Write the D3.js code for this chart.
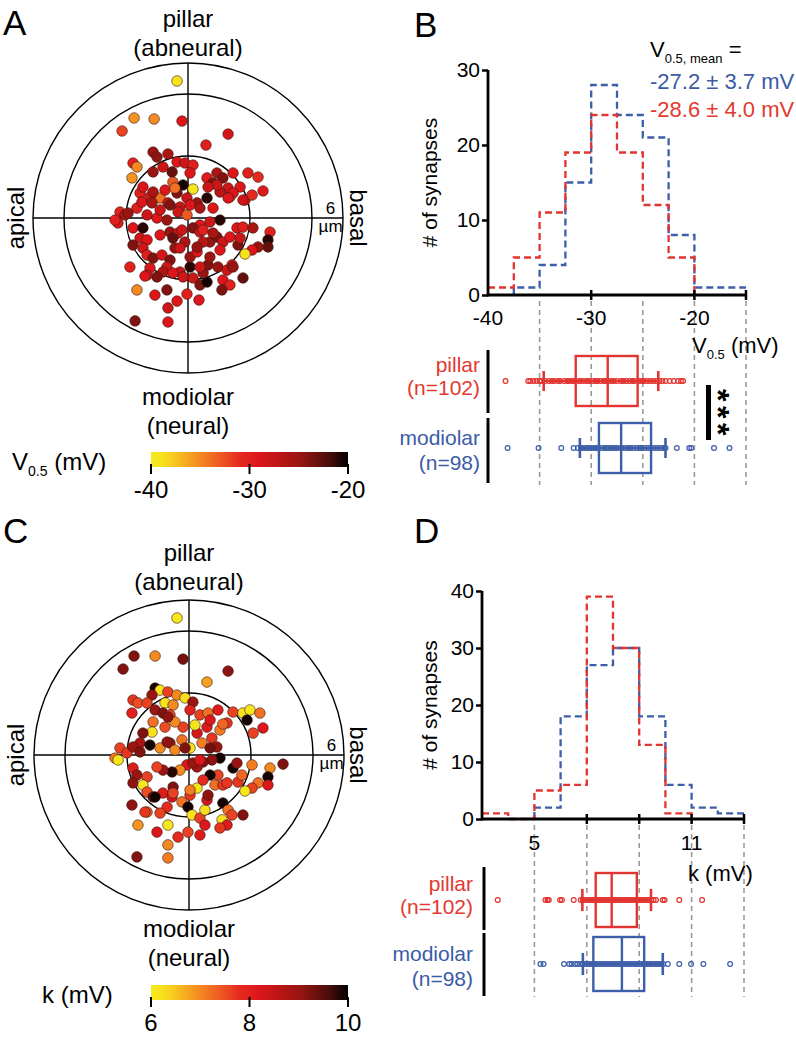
<!DOCTYPE html>
<html><head><meta charset="utf-8">
<script src="https://cdn.jsdelivr.net/npm/d3@7"></script>
<style>body{margin:0;background:#fff}svg{display:block}</style>
</head><body><svg id="c" width="796" height="1040"></svg>
<script>
// ---------------- DATA ----------------
// Polar positions (µm; x = basal +, y = pillar +) and value
const polarA = [[-0.53,6.63,-39],[-2.61,4.84,-35.5],[-1.64,4.79,-35],[-3.19,4.21,-32],[-0.29,4.69,-29],[1.94,4.06,-28.5],[0.87,3.53,-30],[-1.69,3.19,-25],[-1.50,2.95,-24.5],[-0.97,3.10,-26],[-0.53,2.71,-29],[-0.15,2.66,-28],[0.24,2.56,-30],[-2.66,2.66,-30],[-2.47,2.47,-35],[-2.71,1.94,-35.5],[-1.69,2.23,-25],[-1.21,2.47,-28],[-0.77,2.23,-23],[-0.73,1.74,-33],[-0.24,1.60,-20.5],[0.24,1.40,-39.5],[0.10,2.18,-29],[0.92,1.94,-29.5],[1.40,2.18,-26],[2.18,2.18,-29],[2.90,2.18,-30],[3.39,1.98,-31],[1.21,1.69,-24],[1.94,1.45,-28],[1.55,1.26,-27],[2.52,1.50,-29],[3.63,1.31,-29.5],[2.76,0.87,-29],[2.03,1.02,-33],[0.92,0.97,-21],[0.44,0.73,-25],[-0.05,0.97,-28],[-0.53,1.21,-24],[-1.35,0.97,-34],[-1.84,1.02,-29],[-2.32,1.21,-30],[-0.97,0.73,-28],[-0.39,0.53,-27.5],[1.69,1.94,-24],[1.40,1.60,-28],[-2.18,1.50,-29],[-1.69,1.26,-26],[-1.11,1.35,-29],[-0.63,1.45,-34],[0.97,1.50,-28],[2.18,1.21,-29],[3.10,1.11,-31],
[-3.39,-0.24,-29.5],[-3.29,0.29,-30],[-3.05,0.15,-26],[-2.66,-0.48,-29],[-2.18,-0.48,-21],[-2.32,-0.97,-28],[-1.98,-1.06,-29],[-2.66,-1.31,-24],[-2.18,-1.45,-28],[-1.98,-1.79,-30],[-1.69,-1.94,-24],[-1.26,-1.79,-28.5],[-1.35,-0.82,-29],[-0.87,-0.68,-25],[-0.48,-0.73,-28],[-0.73,-0.97,-23],[-0.63,-1.45,-25],[-0.87,-2.03,-24],[-1.02,-2.37,-28],[-1.21,-2.61,-26],[-1.84,-2.42,-29],[-1.98,-2.76,-29],[-2.81,-2.37,-30],[-0.39,-2.61,-28],[0.10,-2.37,-21],[0.10,-1.89,-25],[0.44,-1.64,-29],[0.24,-2.90,-28],[0.58,-3.24,-24],[0.92,-3.10,-20.5],[0.73,-2.66,-25],[0.97,-2.27,-24],[1.06,-1.89,-25],[1.06,-1.16,-25],[1.40,-0.92,-24],[1.69,-1.16,-28],[1.55,-1.55,-29],[1.45,-2.37,-25],[1.89,-2.52,-28],[2.13,-2.27,-29],[1.69,-3.00,-29],[2.03,-3.24,-30],[1.64,-3.48,-24],[2.66,-2.90,-23],[2.37,-0.48,-29],[2.66,-0.44,-30],[3.14,-0.48,-26],[3.97,-0.68,-30],[3.87,-1.06,-21],[3.87,-1.40,-23],[3.39,-1.40,-25],[3.10,-1.55,-29],[2.76,-1.74,-39],[2.42,-1.31,-24],[2.52,-0.97,-28],[2.03,-0.92,-29],[1.55,-0.10,-21],[1.06,-0.19,-28],[0.58,-0.34,-29],[0.24,-0.48,-24],[0.58,-0.68,-28],[0.73,-1.16,-27],[0.44,-1.40,-25],[-0.15,-1.16,-26],[-0.39,-1.45,-28],[-1.02,-0.10,-25],[-1.50,0,-29],[-1.98,0.15,-28],[-2.47,0.48,-30],[-2.23,0.77,-29],[-1.74,0.73,-26],[-0.87,0.63,-24],[-0.48,0.29,-28],[-0.05,0.15,-33],[0.10,0.63,-29],[0.58,0.48,-26],[1.21,0.48,-29],[1.94,0.97,-29],[2.66,0.87,-28],[-2.47,-3.48,-35],[-1.60,-3.73,-29],[-1.02,-3.48,-24],[-0.53,-4.02,-29],[-0.97,-4.35,-28],[-0.05,-3.68,-30],[0.53,-3.97,-29],[-2.56,-4.98,-24],[-0.97,-5.03,-29],[-2.08,-2.81,-29],[-1.35,0.39,-28],[-3.53,-0.10,-30],[-2.90,0.24,-25],[0.73,-0.58,-30],[1.21,-0.73,-26],[-0.29,-0.58,-28],[0.58,-2.37,-28],[2.18,-2.37,-25],[-0.24,-2.85,-28],[-0.73,-2.66,-29],[-1.50,-2.85,-24]];

const polarC = [[-0.58,6.63,6.1],[-2.66,4.79,9.2],[-1.64,4.79,7.0],[-3.19,4.16,9.2],[-0.29,4.64,9.3],[1.89,4.06,9.1],[0.87,3.53,6.8],[-1.64,3.24,9.9],[-1.40,3.14,6.2],[-1.79,2.90,9.0],[-1.02,3.05,7.6],[-0.58,2.90,7.0],[-0.19,2.76,6.3],[0.19,2.56,9.0],[-2.71,2.66,7.7],[-2.47,2.52,7.5],[-2.76,2.03,8.0],[-1.64,2.18,9.0],[-1.16,2.52,6.2],[-0.77,2.42,7.0],[-1.26,2.03,9.2],[-0.92,1.94,7.6],[0.05,2.18,8.0],[0.53,1.94,7.6],[0.92,2.03,7.2],[1.40,2.18,8.1],[2.13,2.08,7.6],[2.61,2.03,6.2],[2.95,2.18,6.1],[2.81,1.69,9.9],[3.43,2.03,7.2],[3.58,1.31,8.2],[3.10,1.06,7.6],[1.84,1.55,7.7],[1.50,1.21,7.1],[0.87,1.35,8.1],[0.39,1.06,8.3],[0.29,1.45,6.2],[-0.29,1.35,7.6],[-0.68,1.60,7.0],[-1.16,1.35,7.5],[-1.74,1.60,7.2],[-1.79,1.11,6.2],[-2.23,1.06,9.2],[-2.37,0.58,8.8],[-1.89,0.48,9.9],[-1.40,0.34,7.0],[-0.92,0.58,9.0],[-0.34,0.73,7.2],[0.05,0.34,6.2],[0.63,0.58,7.1],[1.11,0.82,7.7],[1.35,0.39,9.0],[-3.34,0.34,7.6],[-3.58,-0.15,7.1],[-3.43,-0.24,6.1],[-3.00,0.10,7.7],[-2.03,2.52,7.6],[1.02,1.69,8.2],[1.64,1.50,7.3],[-1.02,1.84,9.1],
[-2.71,0.39,9.0],[-2.37,0.15,9.2],[-1.06,0.63,9.1],[-0.68,0.24,7.0],[-0.19,0.34,9.2],[1.02,0.34,9.3],[1.50,-0.15,9.9],[1.11,-0.24,9.1],[0.68,-0.34,9.2],[0.39,-0.58,8.9],[-0.10,-0.48,8.2],[-0.44,-0.73,7.0],[-0.82,-0.82,9.8],[-1.26,-0.73,9.0],[-2.71,-0.63,8.1],[-2.52,-0.97,9.0],[-2.03,-1.06,7.6],[-2.71,-1.35,9.1],[-2.23,-1.45,6.1],[-2.03,-1.79,7.5],[-1.74,-2.03,9.3],[-1.26,-1.84,8.1],[-0.77,-1.55,9.2],[-0.82,-2.03,8.3],[-1.06,-2.52,7.8],[-1.40,-2.81,7.6],[-2.03,-2.76,7.3],[-2.76,-2.42,9.1],[-0.34,-2.27,7.2],[0.05,-1.94,7.7],[0.39,-1.60,6.2],[-0.05,-2.52,9.9],[0.15,-2.90,6.2],[0.53,-3.05,7.6],[0.77,-2.66,6.3],[0.87,-2.18,8.3],[0.92,-1.94,9.1],[1.26,-1.45,7.2],[1.64,-1.45,7.7],[1.40,-0.97,7.6],[1.02,-0.97,9.9],[0.68,-1.21,7.8],[1.64,-2.32,9.9],[1.89,-2.66,7.2],[2.08,-2.90,7.6],[1.60,-3.14,6.2],[1.84,-3.39,8.1],[1.50,-3.53,7.7],[2.61,-2.90,9.2],[2.13,-0.63,9.9],[2.32,-0.39,9.0],[3.05,-0.48,7.1],[3.92,-0.63,7.0],[3.82,-1.06,9.9],[3.82,-1.45,8.2],[3.34,-1.35,7.2],[3.05,-1.60,7.6],[2.71,-1.74,6.1],[2.37,-1.31,7.7],[2.56,-0.97,7.3],[4.55,-0.44,9.2],[-2.47,-3.39,6.9],[-1.55,-3.73,8.2],[-1.02,-3.39,6.1],[-0.53,-3.97,7.8],[-0.05,-3.73,7.6],[0.53,-3.87,8.1],[-1.02,-4.35,7.0],[-2.52,-4.93,9.2],[-1.02,-4.98,7.1],[-1.55,-0.58,7.6],[0.19,-0.39,9.0],[0.53,-0.24,8.2],[1.84,-1.35,7.7],[-1.64,-2.03,9.9],[0.05,-1.69,7.1],[-0.77,-1.84,7.6],[-2.13,-2.76,7.7],[0.77,-3.39,8.2]];

const ringRadii = [3, 6, 7.5];              // µm
const vColorTicks = [-40, -30, -20];
const kColorTicks = [6, 8, 10];

// Histograms
const vEdges = [-40,-37.5,-35,-32.5,-30,-27.5,-25,-22.5,-20,-17.5,-15];
const vPillarCounts   = [1,5,11,19,24,19,12,5,0,0];
const vModiolarCounts = [0,1,4,15,28,24,21,8,1,1];
const kEdges = [3,4,5,6,7,8,9,10,11,12,13];
const kPillarCounts   = [1,0,5,6,39,30,13,1,0,0];
const kModiolarCounts = [0,0,2,18,27,30,18,6,2,1];
const vYTicks = [0,10,20,30];
const kYTicks = [0,10,20,30,40];
const vXLabels = [-40,-30,-20];
const vXMarks = [-30,-20,-15];
const vGrid = [-35,-30,-25,-20,-15];
const kXLabels = [5,11];
const kXMarks = [7,9,11,13];
const kGrid = [5,7,9,11,13];

// Box plots: [whisker low, q1, median, q3, whisker high]
const vBoxPillar   = [-34.6,-31.5,-28.4,-25.5,-23.5];
const vBoxModiolar = [-31.1,-29.25,-27.1,-24.2,-22.8];
const kBoxPillar   = [6.83,7.34,7.95,8.91,9.45];
const kBoxModiolar = [6.85,7.25,8.34,9.19,9.9];

const vDotsPillar = [-38.3,-36.1,-35.9,-35.6,-35.3,-35.0,-34.8,-34.5,-34.1,-33.8,-33.6,-33.2,-33.0,-32.6,-32.3,-32.1,-31.8,-31.6,-31.2,-31.0,-30.7,-30.4,-30.2,-29.9,-29.6,-29.4,-29.1,-28.8,-28.6,-28.3,-28.0,-27.8,-27.5,-27.1,-26.9,-26.6,-26.3,-26.0,-25.8,-25.4,-25.1,-24.9,-24.6,-24.3,-24.0,-23.7,-23.4,-23.1,-22.8,-22.4,-22.0,-21.6,-21.3,-21.1];
const vDotsModiolar = [-38.1,-35.1,-32.9,-31.7,-31.3,-31.0,-30.8,-30.5,-30.3,-30.0,-29.8,-29.5,-29.3,-29.0,-28.7,-28.5,-28.2,-28.0,-27.7,-27.5,-27.2,-27.0,-26.7,-26.4,-26.2,-25.9,-25.6,-25.3,-25.1,-24.8,-24.5,-24.2,-23.9,-23.6,-23.3,-23.0,-22.8,-21.7,-20.5,-20.3,-18.1,-16.6];
const kDotsPillar = [3.6,5.42,5.5,5.55,5.98,6.05,6.5,6.77,6.85,6.95,7.05,7.12,7.2,7.3,7.38,7.45,7.55,7.62,7.7,7.78,7.85,7.95,8.02,8.1,8.2,8.3,8.38,8.45,8.55,8.62,8.7,8.8,8.9,9.0,9.08,9.15,9.25,9.35,9.45,9.55,9.64,9.9,9.97,10.53,11.4];
const kDotsModiolar = [5.23,5.35,6.13,6.33,6.42,6.55,6.64,6.75,6.85,6.95,7.05,7.15,7.25,7.35,7.45,7.55,7.65,7.75,7.85,7.95,8.05,8.15,8.25,8.35,8.45,8.55,8.65,8.75,8.85,8.95,9.05,9.15,9.25,9.35,9.45,9.55,9.65,9.75,9.85,9.92,10.09,10.53,10.98,11.45,12.47];

// ---------------- DRAWING ----------------
const FONT = "'Liberation Sans', Arial, Helvetica, sans-serif";
const RED = "#e23430", BLUE = "#3d5ea8";
const RED_T = "#e23a30", BLUE_T = "#3b5ba5";
const svg = d3.select("#c").attr("font-family", FONT);

const hotStops = ["#f6ea1c","#f7df1e","#f5a020","#ee5a24","#e42a1f","#dc161a","#9a1512","#4c0e0b","#000000"];
const hotPos   = [0,0.07,0.2,0.35,0.45,0.55,0.75,0.9,1];
function hotScale(dom){
  const t = d3.scaleLinear().domain(dom).range([0,1]).clamp(true);
  const c = d3.scaleLinear().domain(hotPos).range(hotStops).interpolate(d3.interpolateRgb);
  return v => c(t(v));
}

function txt(g, x, y, s, size, opts={}){
  const t = g.append("text").attr("x",x).attr("y",y).attr("font-size",size).text(s);
  if(opts.anchor) t.attr("text-anchor",opts.anchor);
  if(opts.fill) t.attr("fill",opts.fill);
  if(opts.weight) t.attr("font-weight",opts.weight);
  return t;
}

function polarPanel(cx, cy, pts, dom, ticks, labelParts, letter, letterY, yTop, yBot, cb){
  const sx = d3.scaleLinear().domain([-7.5,7.5]).range([cx-155,cx+155]);
  const sy = d3.scaleLinear().domain([-7.5,7.5]).range([cy+155,cy-155]);
  const rr = d3.scaleLinear().domain([0,7.5]).range([0,155]);
  const col = hotScale(dom);
  const g = svg.append("g");
  g.selectAll("circle.ring").data(ringRadii).join("circle")
    .attr("cx",sx(0)).attr("cy",sy(0)).attr("r",d=>rr(d))
    .attr("fill","none").attr("stroke","#000").attr("stroke-width",1.4);
  g.append("line").attr("x1",sx(-7.5)).attr("x2",sx(7.5)).attr("y1",sy(0)).attr("y2",sy(0)).attr("stroke","#000").attr("stroke-width",1.4);
  g.append("line").attr("x1",sx(0)).attr("x2",sx(0)).attr("y1",sy(7.5)).attr("y2",sy(-7.5)).attr("stroke","#000").attr("stroke-width",1.4);
  g.selectAll("circle.pt").data(pts).join("circle")
    .attr("cx",d=>sx(d[0])).attr("cy",d=>sy(d[1])).attr("r",5.3)
    .attr("fill",d=>col(d[2])).attr("stroke","#3a1810").attr("stroke-width",0.6);
  txt(g, sx(6.9), sy(0)-4, "6", 17, {anchor:"middle"});
  txt(g, sx(6.9), sy(0)+14, "µm", 17, {anchor:"middle"});
  txt(g, cx, yTop, "pillar", 24, {anchor:"middle"});
  txt(g, cx, yTop+29, "(abneural)", 24, {anchor:"middle"});
  txt(g, cx, yBot, "modiolar", 24, {anchor:"middle"});
  txt(g, cx, yBot+29, "(neural)", 24, {anchor:"middle"});
  g.append("text").attr("transform",`translate(24,${cy}) rotate(-90)`).attr("text-anchor","middle").attr("font-size",24).text("apical");
  g.append("text").attr("transform",`translate(350,${cy}) rotate(90)`).attr("text-anchor","middle").attr("font-size",24).text("basal");
  txt(g, 3, letterY, letter, 35);
  const cbx = d3.scaleLinear().domain(dom).range([151,348]);
  const gid = "grad"+letter;
  const grad = svg.append("defs").append("linearGradient").attr("id",gid);
  d3.range(0,1.0001,0.05).forEach(t=>{
    grad.append("stop").attr("offset",(t*100)+"%").attr("stop-color",col(dom[0]+t*(dom[1]-dom[0])));
  });
  g.append("rect").attr("x",cbx(dom[0])).attr("y",cb.y).attr("width",cbx(dom[1])-cbx(dom[0])).attr("height",cb.h).attr("fill",`url(#${gid})`);
  g.selectAll("line.cbt").data(ticks).join("line")
    .attr("x1",d=>cbx(d)).attr("x2",d=>cbx(d)).attr("y1",cb.y+cb.h-3).attr("y2",cb.y+cb.h+7)
    .attr("stroke","#000").attr("stroke-width",2);
  g.selectAll("text.cbl").data(ticks).join("text")
    .attr("x",d=>cbx(d)).attr("y",cb.y+cb.h+31).attr("text-anchor","middle").attr("font-size",24).text(d=>d);
  const lt = g.append("text").attr("x",labelParts.x).attr("y",cb.y+cb.h+3).attr("font-size",24);
  lt.append("tspan").text(labelParts.main);
  if(labelParts.sub){
    lt.append("tspan").attr("font-size",14).attr("dy",6).text(labelParts.sub);
    lt.append("tspan").attr("dy",-6).text(labelParts.rest);
  }
}

polarPanel(188, 218, polarA, [-40,-20], vColorTicks, {x:12, main:"V", sub:"0.5", rest:" (mV)"}, "A", 35, 27, 405, {y:452,h:15});
polarPanel(189, 755, polarC, [6,10], kColorTicks, {x:42, main:"k (mV)"}, "C", 543, 561, 937, {y:985,h:15});

function histPanel(cfg){
  const x = d3.scaleLinear().domain(cfg.xdom).range(cfg.xr);
  const y = d3.scaleLinear().domain(cfg.ydom).range(cfg.yr);
  const g = svg.append("g");
  g.selectAll("line.grid").data(cfg.grid).join("line")
    .attr("x1",d=>x(d)).attr("x2",d=>x(d)).attr("y1",cfg.yr[0]+6).attr("y2",cfg.gridEnd)
    .attr("stroke","#9a9a9a").attr("stroke-width",1.6).attr("stroke-dasharray","5,4");
  const line = d3.line().x(d=>x(d[0])).y(d=>y(d[1])).curve(d3.curveStepAfter);
  [[cfg.modiolar,BLUE],[cfg.pillar,RED]].forEach(([counts,color])=>{
    const first = counts.findIndex(c=>c>0);
    const last = counts.length-1-[...counts].reverse().findIndex(c=>c>0);
    const pts = [];
    if(cfg.edges[first] > cfg.xdom[0]) pts.push([cfg.edges[first],0]);
    for(let i=first;i<=last;i++) pts.push([cfg.edges[i],counts[i]]);
    pts.push([cfg.edges[last+1],counts[last]]);
    if(cfg.edges[last+1] < cfg.xdom[1]) pts.push([cfg.edges[last+1],0]);
    g.append("path").attr("d",line(pts)).attr("fill","none").attr("stroke",color)
      .attr("stroke-width",2.3).attr("stroke-dasharray","7,4");
  });
  g.append("line").attr("x1",x(cfg.xdom[0])).attr("x2",x(cfg.xdom[1])).attr("y1",y(0)).attr("y2",y(0)).attr("stroke","#000").attr("stroke-width",2.8);
  g.append("line").attr("x1",x(cfg.xdom[0])).attr("x2",x(cfg.xdom[0])).attr("y1",y(0)+1.4).attr("y2",y(cfg.ydom[1])).attr("stroke","#000").attr("stroke-width",2.8);
  const ya = g.append("g").attr("transform",`translate(${x(cfg.xdom[0])},0)`)
    .call(d3.axisLeft(y).tickValues(cfg.yticks).tickSize(6).tickSizeOuter(0).tickPadding(2));
  ya.select(".domain").remove();
  ya.selectAll("line").attr("stroke-width",2.5);
  ya.selectAll("text").attr("font-size",21).attr("font-family",FONT).attr("fill","#000");
  g.selectAll("line.xm").data(cfg.xmarks).join("line")
    .attr("x1",d=>x(d)).attr("x2",d=>x(d)).attr("y1",y(0)-5).attr("y2",y(0)+5)
    .attr("stroke","#000").attr("stroke-width",2.5);
  g.selectAll("text.xl").data(cfg.xlabels).join("text")
    .attr("x",d=>x(d)).attr("y",cfg.xLabelY).attr("text-anchor","middle").attr("font-size",21).text(d=>d);
  g.append("text").attr("transform",`translate(437,${(y(0)+y(cfg.ydom[1]))/2}) rotate(-90)`)
    .attr("text-anchor","middle").attr("font-size",21).text("# of synapses");
  txt(g, 414, cfg.letterY, cfg.letter, 35);
  function row(cy, box, dots, color, h, cap){
    const r = g.append("g");
    r.append("line").attr("x1",x(box[0])).attr("x2",x(box[4])).attr("y1",cy).attr("y2",cy).attr("stroke",color).attr("stroke-width",2);
    r.selectAll("circle").data(dots).join("circle").attr("cx",d=>x(d)).attr("cy",cy).attr("r",2.4)
      .attr("fill","none").attr("stroke",color).attr("stroke-width",1.2);
    [box[0],box[4]].forEach(v=>r.append("line").attr("x1",x(v)).attr("x2",x(v)).attr("y1",cy-cap).attr("y2",cy+cap).attr("stroke",color).attr("stroke-width",2.6));
    r.append("rect").attr("x",x(box[1])).attr("y",cy-h).attr("width",x(box[3])-x(box[1])).attr("height",2*h)
      .attr("fill","none").attr("stroke",color).attr("stroke-width",2.4);
    r.append("line").attr("x1",x(box[2])).attr("x2",x(box[2])).attr("y1",cy-h).attr("y2",cy+h).attr("stroke",color).attr("stroke-width",2.4);
  }
  row(cfg.rowP, cfg.boxP, cfg.dotsP, RED, cfg.boxH, cfg.cap);
  row(cfg.rowM, cfg.boxM, cfg.dotsM, BLUE, cfg.boxH, cfg.cap);
  const lx = cfg.labelX;
  txt(g, lx, cfg.rowP-9, "pillar", 21, {anchor:"end", fill:RED_T});
  txt(g, lx, cfg.rowP+14, "(n=102)", 21, {anchor:"end", fill:RED_T});
  txt(g, lx, cfg.rowM-3, "modiolar", 21, {anchor:"end", fill:BLUE_T});
  txt(g, lx, cfg.rowM+22, "(n=98)", 21, {anchor:"end", fill:BLUE_T});
  cfg.seps.forEach(s=>g.append("line").attr("x1",cfg.sepX).attr("x2",cfg.sepX).attr("y1",s[0]).attr("y2",s[1]).attr("stroke","#000").attr("stroke-width",3));
  return {x,y,g};
}

const B = histPanel({xdom:[-40,-15], xr:[488,746], ydom:[0,30], yr:[295,70], edges:vEdges,
  pillar:vPillarCounts, modiolar:vModiolarCounts, yticks:vYTicks, xlabels:vXLabels, xmarks:vXMarks,
  grid:vGrid, gridEnd:485, xLabelY:325, letter:"B", letterY:37,
  rowP:381, rowM:448, boxP:vBoxPillar, boxM:vBoxModiolar, dotsP:vDotsPillar, dotsM:vDotsModiolar,
  boxH:25, cap:10, labelX:480, sepX:488, seps:[[350,413],[418,483]]});

const D = histPanel({xdom:[3,13], xr:[482,744], ydom:[0,40], yr:[819,591], edges:kEdges,
  pillar:kPillarCounts, modiolar:kModiolarCounts, yticks:kYTicks, xlabels:kXLabels, xmarks:kXMarks,
  grid:kGrid, gridEnd:997, xLabelY:850, letter:"D", letterY:543,
  rowP:900, rowM:964, boxP:kBoxPillar, boxM:kBoxModiolar, dotsP:kDotsPillar, dotsM:kDotsModiolar,
  boxH:27, cap:11, labelX:473, sepX:484, seps:[[867,930],[933,996]]});

{
  const g = B.g;
  const t1 = g.append("text").attr("x",650).attr("y",57).attr("font-size",22);
  t1.append("tspan").text("V");
  t1.append("tspan").attr("font-size",13).attr("dy",6).text("0.5, mean");
  t1.append("tspan").attr("dy",-6).text(" =");
  txt(g, 650, 89, "-27.2 ± 3.7 mV", 22, {fill:BLUE_T});
  txt(g, 650, 117, "-28.6 ± 4.0 mV", 22, {fill:RED_T});
  const t2 = g.append("text").attr("x",692).attr("y",353).attr("font-size",22);
  t2.append("tspan").text("V");
  t2.append("tspan").attr("font-size",13).attr("dy",6).text("0.5");
  t2.append("tspan").attr("dy",-6).text(" (mV)");
  g.append("rect").attr("x",706).attr("y",385).attr("width",5).attr("height",55).attr("fill","#000");
  g.append("text").attr("transform","translate(707,389) rotate(90)")
    .attr("font-size",32).attr("font-weight","bold").attr("letter-spacing",4.5).text("***");
}
txt(D.g, 688, 881, "k (mV)", 22);
</script></body></html>
